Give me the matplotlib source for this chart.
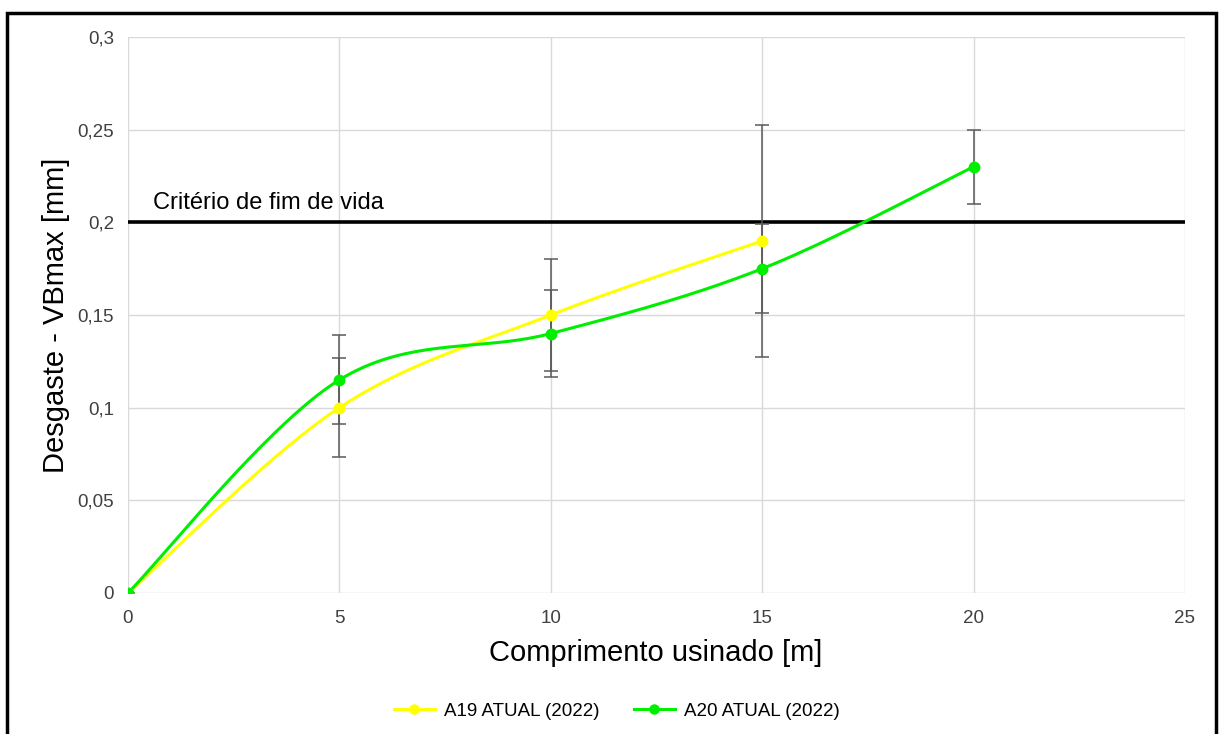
import numpy as np
import matplotlib
matplotlib.use("Agg")
import matplotlib.pyplot as plt
from matplotlib.patches import Rectangle

plt.rcParams['font.family'] = ['Liberation Sans', 'DejaVu Sans']

# Data
x_a19 = [0, 5, 10, 15]
y_a19 = [0.0, 0.10, 0.15, 0.19]
err_a19 = [0.0, 0.0266, 0.030, 0.0625]

x_a20 = [0, 5, 10, 15, 20]
y_a20 = [0.0, 0.115, 0.14, 0.175, 0.23]
err_a20 = [0.0, 0.024, 0.0235, 0.024, 0.020]

criterion = 0.2
labels = ["A19 ATUAL (2022)", "A20 ATUAL (2022)"]
colors = ["#FFFF00", "#00EE00"]

xticks = [0, 5, 10, 15, 20, 25]
yticks = [0, 0.05, 0.1, 0.15, 0.2, 0.25, 0.3]
yticklabels = ["0", "0,05", "0,1", "0,15", "0,2", "0,25", "0,3"]


def smooth(xs, ys, n=40):
    """Excel-like smoothed line (Catmull-Rom style Bezier)."""
    xs = np.asarray(xs, float)
    ys = np.asarray(ys, float)
    P = np.column_stack([xs, ys])
    out = []
    for i in range(len(P) - 1):
        p0 = P[i - 1] if i > 0 else P[i]
        p1 = P[i]
        p2 = P[i + 1]
        p3 = P[i + 2] if i + 2 < len(P) else P[i + 1]
        c1 = p1 + (p2 - p0) / 6.0
        c2 = p2 - (p3 - p1) / 6.0
        t = np.linspace(0, 1, n)[:, None]
        seg = ((1 - t) ** 3) * p1 + 3 * ((1 - t) ** 2) * t * c1 + 3 * (1 - t) * t ** 2 * c2 + t ** 3 * p2
        out.append(seg if i == 0 else seg[1:])
    s = np.vstack(out)
    return s[:, 0], s[:, 1]


fig = plt.figure(figsize=(12.19, 7.34), dpi=100)
ax = fig.add_axes([0.105, 0.1921, 0.8671, 0.7575])

ax.set_xlim(0, 25)
ax.set_ylim(0, 0.3)
ax.set_xticks(xticks)
ax.set_yticks(yticks)
ax.set_yticklabels(yticklabels)
ax.grid(True, color="#D9D9D9", linewidth=1)
ax.set_axisbelow(True)
for sp in ax.spines.values():
    sp.set_visible(False)
ax.tick_params(length=0, labelsize=13.5, colors="#404040", pad=10)
ax.tick_params(axis="x", pad=12)

# criterion line
ax.axhline(criterion, color="black", linewidth=2.6, zorder=2)
ax.text(0.59, criterion + 0.007, "Critério de fim de vida", fontsize=17,
        color="black", va="baseline", ha="left")

handles = []
for xs, ys, es, col, lab in [(x_a19, y_a19, err_a19, colors[0], labels[0]),
                             (x_a20, y_a20, err_a20, colors[1], labels[1])]:
    ax.errorbar(xs, ys, yerr=es, fmt="none", ecolor="#5A5A5A", elinewidth=1.1,
                capsize=5, capthick=1.1, zorder=3)
    sx, sy = smooth(xs, ys)
    ax.plot(sx, sy, color=col, linewidth=2.2, zorder=4)
    ax.plot(xs, ys, linestyle="none", marker="o", markersize=7.5, color=col, zorder=5)
    h, = ax.plot([], [], color=col, linewidth=2.2, marker="o", markersize=6.5, label=lab)
    handles.append(h)

ax.set_xlabel("Comprimento usinado [m]", fontsize=21)
ax.xaxis.set_label_coords(0.4995, -0.108)
ax.xaxis.label.set_va("center")
ax.set_ylabel("Desgaste - VBmax [mm]", fontsize=21)
ax.yaxis.set_label_coords(-0.068, 0.5)
ax.yaxis.label.set_va("center")

fig.legend(handles=handles, loc="center", bbox_to_anchor=(0.506, 0.031), ncol=2,
           frameon=False, fontsize=13.5, handlelength=2.2, columnspacing=1.8,
           handletextpad=0.5)

# outer border
fig.patches.append(Rectangle((7 / 1219, -0.05), (1216 - 7) / 1219, 1.05 - 13 / 734,
                             transform=fig.transFigure, fill=False,
                             edgecolor="black", linewidth=2.5))

fig.savefig("out.png", dpi=100)
